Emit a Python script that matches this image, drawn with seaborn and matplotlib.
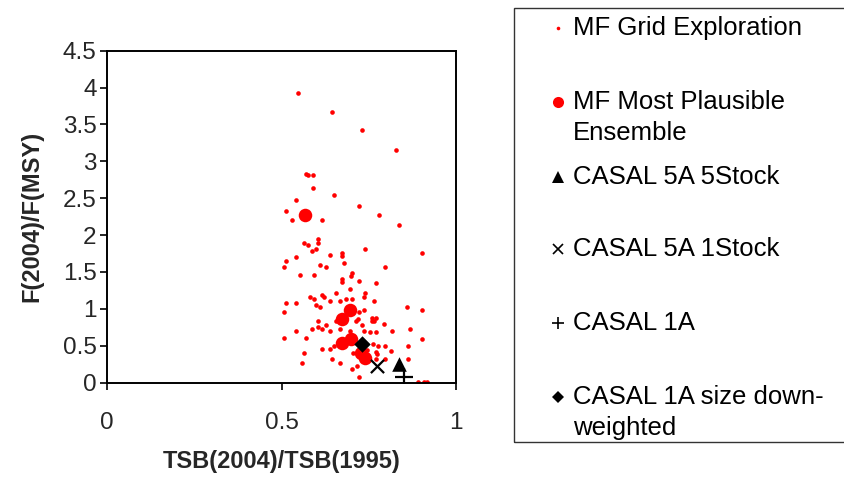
import matplotlib
matplotlib.use("Agg")
import matplotlib.pyplot as plt
import seaborn as sns
import pandas as pd
from matplotlib.lines import Line2D
from matplotlib.patches import Rectangle

# MF grid exploration runs (small red dots)
grid_x = [0.546, 0.644, 0.730, 0.827, 0.569, 0.575, 0.591, 0.591, 0.541, 0.650,
          0.723, 0.512, 0.529, 0.615, 0.780, 0.838, 0.564, 0.575, 0.604, 0.604,
          0.598, 0.587, 0.638, 0.672, 0.672, 0.541, 0.512, 0.506, 0.609, 0.627,
          0.678, 0.552, 0.592, 0.672, 0.672, 0.698, 0.701, 0.740, 0.902, 0.797,
          0.723, 0.695, 0.581, 0.592, 0.615, 0.621, 0.655, 0.638, 0.667, 0.684,
          0.701, 0.512, 0.541, 0.598, 0.609, 0.506, 0.604, 0.655, 0.713, 0.627,
          0.604, 0.587, 0.615, 0.638, 0.541, 0.667, 0.770, 0.740, 0.736, 0.764,
          0.861, 0.902, 0.736, 0.723, 0.718, 0.758, 0.770, 0.758, 0.764, 0.793,
          0.730, 0.867, 0.816, 0.736, 0.753, 0.770, 0.695, 0.506, 0.569, 0.615,
          0.638, 0.650, 0.564, 0.644, 0.667, 0.558, 0.701, 0.716, 0.902, 0.862,
          0.815, 0.797, 0.776, 0.775, 0.770, 0.770, 0.797, 0.862, 0.723, 0.890,
          0.907, 0.918, 0.763, 0.745, 0.750, 0.706]
grid_y = [3.92, 3.67, 3.43, 3.16, 2.83, 2.81, 2.81, 2.64, 2.48, 2.54,
          2.40, 2.32, 2.21, 2.21, 2.27, 2.13, 1.89, 1.86, 1.94, 1.89,
          1.81, 1.78, 1.73, 1.75, 1.72, 1.70, 1.65, 1.56, 1.59, 1.56,
          1.62, 1.46, 1.46, 1.40, 1.36, 1.45, 1.48, 1.81, 1.75, 1.56,
          1.38, 1.27, 1.16, 1.13, 1.19, 1.16, 1.21, 1.10, 1.10, 1.13,
          1.13, 1.08, 1.08, 1.05, 1.02, 0.95, 0.83, 0.83, 0.83, 0.78,
          0.75, 0.72, 0.72, 0.70, 0.70, 0.72, 1.35, 1.21, 1.16, 1.10,
          1.02, 0.99, 0.99, 0.96, 0.86, 0.88, 0.88, 0.83, 0.83, 0.80,
          0.78, 0.72, 0.70, 0.70, 0.68, 0.68, 0.70, 0.61, 0.61, 0.45,
          0.45, 0.49, 0.40, 0.32, 0.26, 0.26, 0.18, 0.23, 0.59, 0.50,
          0.43, 0.50, 0.50, 0.38, 0.41, 0.32, 0.32, 0.32, 0.08, 0.01,
          0.01, 0.01, 0.52, 0.44, 0.30, 0.40]

# MF most plausible ensemble (big red dots)
ens_x = [0.566, 0.695, 0.672, 0.698, 0.672, 0.727, 0.738]
ens_y = [2.27, 0.99, 0.86, 0.59, 0.53, 0.40, 0.33]

# CASAL runs
casal_names = ["CASAL 5A 5Stock", "CASAL 5A 1Stock", "CASAL 1A",
               "CASAL 1A size down-weighted"]
casal_x = [0.838, 0.773, 0.852, 0.732]
casal_y = [0.25, 0.22, 0.07, 0.52]

legend_labels = ["MF Grid Exploration", "MF Most Plausible\nEnsemble",
                 "CASAL 5A 5Stock", "CASAL 5A 1Stock", "CASAL 1A",
                 "CASAL 1A size down-\nweighted"]

x_ticks = [0, 0.5, 1]
y_ticks = [0, 0.5, 1, 1.5, 2, 2.5, 3, 3.5, 4, 4.5]

sns.set_theme(style="white")
plt.rcParams['font.family'] = ['Liberation Sans', 'DejaVu Sans']

W, H = 845, 482
fig = plt.figure(figsize=(W / 100, H / 100), dpi=100)
ax = fig.add_axes([107 / W, 1 - 382.5 / H, (456 - 107) / W, (382.5 - 50.7) / H])

grid = pd.DataFrame({"x": grid_x, "y": grid_y})
ens = pd.DataFrame({"x": ens_x, "y": ens_y})
casal = pd.DataFrame({"x": casal_x, "y": casal_y, "run": casal_names})

sns.scatterplot(data=grid, x="x", y="y", ax=ax, color="#ff0000", s=11,
                linewidth=0, zorder=2)
sns.scatterplot(data=ens, x="x", y="y", ax=ax, color="#ff0000", s=95,
                linewidth=0, zorder=3)
casal_style = {"CASAL 5A 5Stock": dict(marker="^", s=110, linewidth=0),
               "CASAL 5A 1Stock": dict(marker="x", s=90, linewidth=1.6),
               "CASAL 1A": dict(marker="+", s=150, linewidth=1.6),
               "CASAL 1A size down-weighted": dict(marker="D", s=70, linewidth=0)}
for name, sub in casal.groupby("run", sort=False):
    sns.scatterplot(data=sub, x="x", y="y", ax=ax, color="black", zorder=4,
                    **casal_style[name])

ax.set_xlim(0, 1)
ax.set_ylim(0, 4.5)
ax.set_xticks(x_ticks)
ax.set_xticklabels(["0", "0.5", "1"])
ax.set_yticks(y_ticks)
ax.set_yticklabels([f"{v:g}" for v in y_ticks])
ax.tick_params(axis="x", direction="out", length=5, width=1.2, color="black",
               labelsize=17.5, pad=16, bottom=True)
ax.tick_params(axis="y", direction="out", length=5, width=1.2, color="black",
               labelsize=17.5, pad=2.5, left=True)
for sp in ax.spines.values():
    sp.set_color("black")
    sp.set_linewidth(1.4)
ax.set_xlabel("TSB(2004)/TSB(1995)", fontsize=17, fontweight="bold", labelpad=12)
ax.set_ylabel("F(2004)/F(MSY)", fontsize=17, fontweight="bold", labelpad=14)

# legend box on the right
fig.add_artist(Rectangle((514 / W, 1 - 442 / H), (860 - 514) / W, (442 - 8) / H,
                         transform=fig.transFigure, fill=False,
                         edgecolor="#333333", linewidth=1.0, clip_on=False))
leg_marks = [dict(marker="o", color="#ff0000", ms=2.6, mew=0),
             dict(marker="o", color="#ff0000", ms=8, mew=0),
             dict(marker="^", color="black", ms=8, mew=0),
             dict(marker="x", color="black", ms=7, mew=1.2),
             dict(marker="+", color="black", ms=9, mew=1.2),
             dict(marker="D", color="black", ms=6, mew=0)]
row_y = [28, 102, 177, 249, 323, 397]
for lab, mk, py in zip(legend_labels, leg_marks, row_y):
    fig.add_artist(Line2D([558 / W], [1 - py / H], transform=fig.transFigure,
                          linestyle="none", **mk))
    for i, line in enumerate(lab.split("\n")):
        fig.text(573 / W, 1 - (py + 31 * i) / H, line, fontsize=18.5,
                 va="center", ha="left", color="black")

fig.savefig("out.png", dpi=100)
